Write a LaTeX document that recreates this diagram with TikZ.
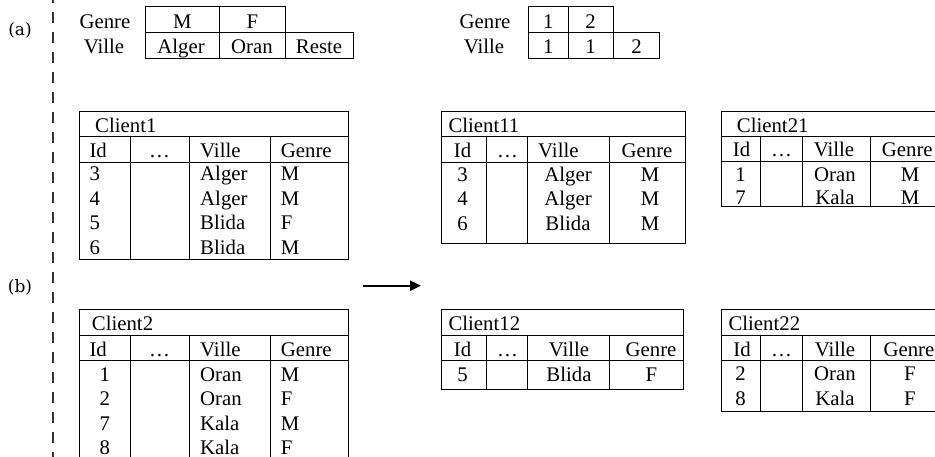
\documentclass[tikz,border=0pt]{standalone}
\usepackage{fontspec}
\setmainfont{Liberation Serif}
\newfontfamily\labfont{DejaVu Serif}
\usetikzlibrary{arrows.meta}
\newcommand\tabfont{\fontsize{20.8}{24}\selectfont}
\newcommand\mytbl[9]{%
  \draw[tline] (#1,#6) rectangle (#5,#9);
  \draw[tline] (#1,#7) -- (#5,#7);
  \draw[tline] (#1,#8) -- (#5,#8);
  \foreach \c in {#2,#3,#4} \draw[tline] (\c,#7) -- (\c,#9);
}
\tikzset{
  cellL/.style={anchor=base west, inner sep=0pt, font=\tabfont},
  cellC/.style={anchor=base, inner sep=0pt, font=\tabfont},
  tline/.style={line width=1pt, draw=black},
  lab/.style={inner sep=0pt, font=\labfont\fontsize{17}{19}\selectfont},
}
\begin{document}
\begin{tikzpicture}[x=1pt,y=-1pt]
\clip (0,0) rectangle (935,457);
\fill[white] (0,0) rectangle (935,457);
% side labels and dashed separator
\node[lab] (la) at (20,30) {(a)};
\node[lab] (lb) at (20,287) {(b)};
\coordinate (dtop) at (53,0);
\coordinate (dbot) at (53,460);
\draw[line width=1.8pt, draw=black!80, dash pattern=on 11.7pt off 8.3pt, dash phase=8.3pt] (dtop) -- (dbot);

% ---- top left grid
\draw[tline] (145.7,6.7) rectangle (285,32.3);
\draw[tline] (219,6.7) -- (219,32.3);
\draw[tline] (145.7,32.3) rectangle (353.3,58.3);
\draw[tline] (219,32.3) -- (219,58.3);
\draw[tline] (285,32.3) -- (285,58.3);
\node[cellC] (g1) at (105,28.3) {Genre};
\node[cellC] (v1) at (104,53.3) {Ville};
\node[cellC] (g1a) at (182.3,28.3) {M};
\node[cellC] (g1b) at (252.5,28.3) {F};
\node[cellC] (v1a) at (181,53.3) {Alger};
\node[cellC] (v1b) at (252,53.3) {Oran};
\node[cellC] (v1c) at (319,53.3) {Reste};

% ---- top right grid
\draw[tline] (528.3,6.7) rectangle (613.3,32.3);
\draw[tline] (568.3,6.7) -- (568.3,32.3);
\draw[tline] (528.3,32.3) rectangle (659.3,58.3);
\draw[tline] (568.3,32.3) -- (568.3,58.3);
\draw[tline] (613.3,32.3) -- (613.3,58.3);
\node[cellC] (g2) at (485,28.3) {Genre};
\node[cellC] (v2) at (484,53.3) {Ville};
\node[cellC] (g2a) at (548.3,28.3) {1};
\node[cellC] (g2b) at (590.5,28.3) {2};
\node[cellC] (v2a) at (548.3,53.3) {1};
\node[cellC] (v2b) at (590.5,53.3) {1};
\node[cellC] (v2c) at (636.5,53.3) {2};

% ---- Client1
\mytbl{79.3}{130}{189}{270.7}{348.3}{111.7}{136.7}{162.3}{259.3}
\node[cellL] (c1t) at (95,132.3) {Client1};
\node[cellL] (c1h1) at (89.3,157.3) {Id};
\node[cellC] (c1h2) at (159.5,157.3) {\dots};
\node[cellL] (c1h3) at (200,157.3) {Ville};
\node[cellL] (c1h4) at (280.7,157.3) {Genre};
\foreach \i/\v/\g/\y in {3/Alger/M/181, 4/Alger/M/205.5, 5/Blida/F/230, 6/Blida/M/254.3}{
  \node[cellL] (c1i\i) at (89.3,\y) {\i};
  \node[cellL] (c1v\i) at (200,\y) {\v};
  \node[cellL] (c1g\i) at (280.7,\y) {\g};
}

% ---- Client11
\mytbl{441}{486.7}{527.3}{609.3}{685}{111.7}{136.7}{162.3}{244}
\node[cellL] (c11t) at (448.3,132.3) {Client11};
\node[cellC] (c11h1) at (462.5,157.3) {Id};
\node[cellC] (c11h2) at (507.5,157.3) {\dots};
\node[cellL] (c11h3) at (538,157.3) {Ville};
\node[cellC] (c11h4) at (647,157.3) {Genre};
\foreach \i/\v/\g/\y in {3/Alger/M/182, 4/Alger/M/206, 6/Blida/M/230.3}{
  \node[cellC] (c11i\i) at (462.5,\y) {\i};
  \node[cellC] (c11v\i) at (568,\y) {\v};
  \node[cellC] (c11g\i) at (650,\y) {\g};
}

% ---- Client21
\mytbl{721}{760}{802.7}{870}{946}{111.7}{136.7}{161.7}{206.7}
\node[cellL] (c21t) at (736.7,132.3) {Client21};
\node[cellC] (c21h1) at (741.5,156.7) {Id};
\node[cellC] (c21h2) at (781.5,156.7) {\dots};
\node[cellC] (c21h3) at (834,156.7) {Ville};
\node[cellL] (c21h4) at (881.7,156.7) {Genre};
\foreach \i/\v/\g/\y in {1/Oran/M/181.5, 7/Kala/M/205}{
  \node[cellC] (c21i\i) at (740.5,\y) {\i};
  \node[cellC] (c21v\i) at (835,\y) {\v};
  \node[cellC] (c21g\i) at (910,\y) {\g};
}

% ---- Client2
\mytbl{79.3}{130}{189}{270.7}{348.3}{310}{335}{360.7}{470}
\node[cellL] (c2t) at (91.7,330.7) {Client2};
\node[cellL] (c2h1) at (89.3,356.7) {Id};
\node[cellC] (c2h2) at (159.5,356.7) {\dots};
\node[cellL] (c2h3) at (200,356.7) {Ville};
\node[cellL] (c2h4) at (280.7,356.7) {Genre};
\foreach \i/\v/\g/\y in {1/Oran/M/381, 2/Oran/F/405.5, 7/Kala/M/430, 8/Kala/F/454}{
  \node[cellC] (c2i\i) at (104.7,\y) {\i};
  \node[cellL] (c2v\i) at (200,\y) {\v};
  \node[cellL] (c2g\i) at (280.7,\y) {\g};
}

% ---- Client12
\mytbl{441}{486.7}{527.3}{609.3}{683}{310}{335}{360.7}{389.3}
\node[cellL] (c12t) at (448.3,330.7) {Client12};
\node[cellC] (c12h1) at (462.5,356.7) {Id};
\node[cellC] (c12h2) at (507.5,356.7) {\dots};
\node[cellC] (c12h3) at (569,356.7) {Ville};
\node[cellC] (c12h4) at (651,356.7) {Genre};
\node[cellC] (c12i5) at (462.5,381) {5};
\node[cellC] (c12v5) at (569,381) {Blida};
\node[cellC] (c12g5) at (651.5,381) {F};

% ---- Client22
\mytbl{721}{760}{802.7}{870}{946}{310}{335}{360.7}{411}
\node[cellL] (c22t) at (728.3,330.7) {Client22};
\node[cellC] (c22h1) at (742,356.7) {Id};
\node[cellC] (c22h2) at (781.5,356.7) {\dots};
\node[cellC] (c22h3) at (835,356.7) {Ville};
\node[cellL] (c22h4) at (883.3,356.7) {Genre};
\foreach \i/\v/\g/\y in {2/Oran/F/380.5, 8/Kala/F/405}{
  \node[cellC] (c22i\i) at (740.5,\y) {\i};
  \node[cellC] (c22v\i) at (835,\y) {\v};
  \node[cellC] (c22g\i) at (910,\y) {\g};
}

% ---- arrow
\coordinate (arA) at (362.7,285.7);
\coordinate (arB) at (421,285.7);
\draw[line width=2pt, -{Triangle[length=11pt,width=10pt]}] (arA) -- (arB);
\end{tikzpicture}
\end{document}
